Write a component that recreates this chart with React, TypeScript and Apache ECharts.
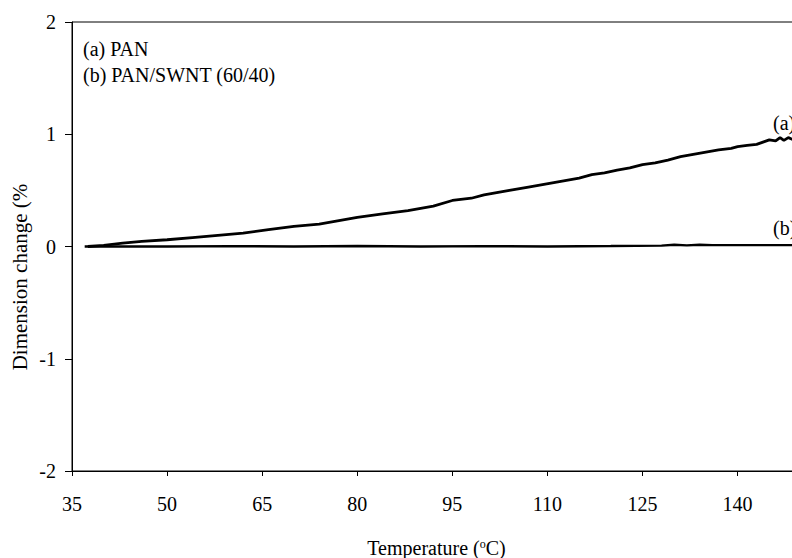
import React, { useEffect, useRef } from "react";
import * as echarts from "echarts";

const xTicks = [35, 50, 65, 80, 95, 110, 125, 140];
const yTicks = [-2, -1, 0, 1, 2];

const tempA = [37.5, 40, 43, 46, 50, 54, 58, 62, 66, 70, 74, 78, 80, 84, 88, 92, 95, 98, 100, 104, 107, 109, 111, 113, 115, 117, 119, 121, 123, 125, 127, 129, 131, 133, 135, 137, 139, 140, 141.5, 143, 144, 145, 146, 146.7, 147.3, 148, 148.6, 150];
const valA = [0.0, 0.01, 0.03, 0.045, 0.06, 0.08, 0.1, 0.12, 0.15, 0.18, 0.2, 0.24, 0.26, 0.29, 0.32, 0.36, 0.41, 0.43, 0.46, 0.5, 0.53, 0.55, 0.57, 0.59, 0.61, 0.64, 0.655, 0.68, 0.7, 0.73, 0.745, 0.77, 0.8, 0.82, 0.84, 0.86, 0.875, 0.89, 0.9, 0.91, 0.93, 0.95, 0.94, 0.97, 0.945, 0.97, 0.955, 0.96];

const tempB = [37, 50, 60, 70, 80, 90, 100, 110, 120, 128, 130, 132, 134, 136, 140, 150];
const valB = [0.0, 0.0, 0.003, 0.0, 0.004, 0.0, 0.003, 0.0, 0.004, 0.008, 0.015, 0.01, 0.016, 0.012, 0.012, 0.012];

const FONT = "Liberation Serif";

export default function App() {
  const ref = useRef<HTMLDivElement>(null);
  useEffect(() => {
    if (!ref.current) return;
    const chart = echarts.init(ref.current, null, { renderer: "svg" });
    const dataA = tempA.map((t, i) => [t, valA[i]]);
    const dataB = tempB.map((t, i) => [t, valB[i]]);
    chart.setOption({
      animation: false,
      backgroundColor: "#fff",
      grid: {
        left: 72,
        top: 22,
        bottom: 87,
        right: -9,
        containLabel: false,
        outerBoundsMode: "none",
        show: true,
        borderColor: "#000",
        borderWidth: 1,
        backgroundColor: "transparent",
      },
      xAxis: {
        type: "value",
        min: 35,
        max: 150,
        interval: 15,
        splitLine: { show: false },
        axisLine: { onZero: false, lineStyle: { color: "#000", width: 1 } },
        axisTick: { inside: false, length: 5, lineStyle: { color: "#000" } },
        axisLabel: {
          margin: 23,
          color: "#000",
          fontFamily: FONT,
          fontSize: 20,
          showMaxLabel: false,
          formatter: (v: number) => (xTicks.includes(v) ? String(v) : ""),
        },
        name: "Temperature ({s|o}C)",
        nameLocation: "middle",
        nameGap: 67,
        nameTextStyle: {
          color: "#000",
          fontFamily: FONT,
          fontSize: 20,
          lineHeight: 20,
          rich: {
            s: { fontFamily: FONT, fontSize: 12, color: "#000", verticalAlign: "top", lineHeight: 10 },
          },
        },
      },
      yAxis: {
        type: "value",
        min: -2,
        max: 2,
        interval: 1,
        splitLine: { show: false },
        axisLine: { onZero: false, lineStyle: { color: "#000", width: 1 } },
        axisTick: { inside: false, length: 7, lineStyle: { color: "#000" } },
        axisLabel: {
          margin: 16,
          color: "#000",
          fontFamily: FONT,
          fontSize: 20,
          formatter: (v: number) => (yTicks.includes(v) ? String(v) : ""),
        },
      },
      graphic: [
        {
          type: "text",
          x: 20,
          y: 277,
          rotation: Math.PI / 2,
          style: {
            text: "Dimension change (%",
            fontFamily: FONT,
            fontSize: 21,
            fill: "#000",
            align: "center",
            verticalAlign: "middle",
          },
        },
        {
          type: "text",
          x: 83,
          y: 49,
          style: { text: "(a) PAN", fontFamily: FONT, fontSize: 20, fill: "#000", align: "left", verticalAlign: "middle" },
        },
        {
          type: "text",
          x: 83,
          y: 75,
          style: { text: "(b) PAN/SWNT (60/40)", fontFamily: FONT, fontSize: 20, fill: "#000", align: "left", verticalAlign: "middle" },
        },
        {
          type: "text",
          x: 773,
          y: 123,
          style: { text: "(a)", fontFamily: FONT, fontSize: 20, fill: "#000", align: "left", verticalAlign: "middle" },
        },
        {
          type: "text",
          x: 773,
          y: 228,
          style: { text: "(b)", fontFamily: FONT, fontSize: 20, fill: "#000", align: "left", verticalAlign: "middle" },
        },
      ],
      series: [
        {
          name: "(a) PAN",
          type: "line",
          data: dataA,
          showSymbol: false,
          lineStyle: { color: "#000", width: 2.8 },
        },
        {
          name: "(b) PAN/SWNT (60/40)",
          type: "line",
          data: dataB,
          showSymbol: false,
          lineStyle: { color: "#000", width: 2.4 },
        },
      ],
    });
    return () => chart.dispose();
  }, []);
  return <div ref={ref} style={{ position: "fixed", left: 0, top: 0, width: 792, height: 558, background: "#fff" }} />;
}
